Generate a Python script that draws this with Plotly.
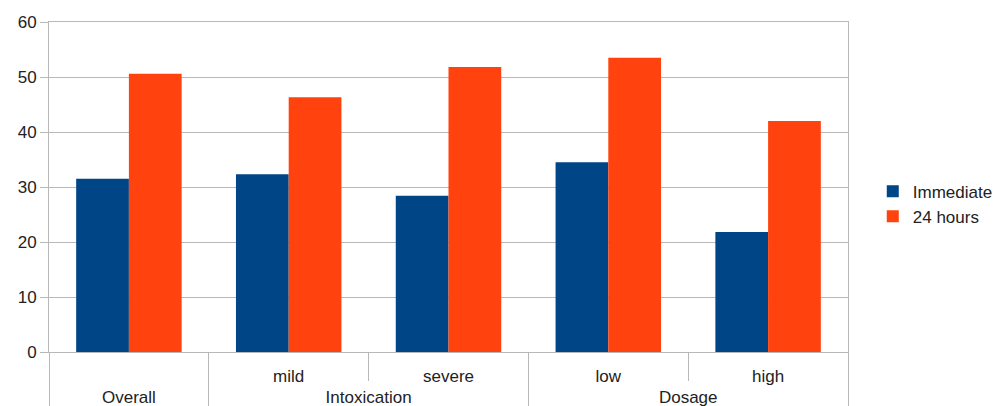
import plotly.graph_objects as go

# Grouping (outer row) and sub-group (inner row) labels for each bar pair
groups = ["Overall", "Intoxication", "Intoxication", "Dosage", "Dosage"]
subgroups = [" ", "mild", "severe", "low", "high"]

immediate = [31.5, 32.3, 28.4, 34.5, 21.8]
hours_24 = [50.6, 46.3, 51.8, 53.5, 42.0]

y_ticks = [0, 10, 20, 30, 40, 50, 60]

BLUE = "#004586"
ORANGE = "#ff420e"
GRID = "#b8b8b8"
TEXT = "#222222"
FONT = "Liberation Sans, Arial, sans-serif"
LABEL_PX = 17


def label(s):
    # category labels are drawn at a fixed size; the larger axis tickfont
    # only lowers both label rows a little further below the axis line
    return f"<span style='font-size:{LABEL_PX}px'>{s}</span>"


x_cats = [[label(g) for g in groups], [label(s) for s in subgroups]]

fig = go.Figure()
fig.add_trace(go.Bar(x=x_cats, y=immediate, name="Immediate",
                     marker=dict(color=BLUE, line=dict(width=0))))
fig.add_trace(go.Bar(x=x_cats, y=hours_24, name="24 hours",
                     marker=dict(color=ORANGE, line=dict(width=0))))

fig.update_layout(
    width=997, height=406,
    margin=dict(l=49, r=149, t=22, b=54, autoexpand=False),
    paper_bgcolor="white", plot_bgcolor="white",
    barmode="group", bargap=0.34, bargroupgap=0,
    font=dict(family=FONT, size=17, color=TEXT),
    showlegend=True,
    legend=dict(x=1.031, xanchor="left", y=0.448, yanchor="middle",
                font=dict(size=17), bgcolor="rgba(0,0,0,0)",
                itemclick=False),
    xaxis=dict(
        type="multicategory",
        range=[-0.5, 4.5],
        showline=True, linecolor=GRID, linewidth=1, mirror=True,
        ticks="outside", tickson="boundaries", ticklen=28, tickcolor=GRID,
        showdividers=True, dividercolor=GRID, dividerwidth=1,
        showgrid=False,
        tickfont=dict(size=24, color=TEXT),
    ),
    yaxis=dict(
        range=[0, 60], tickvals=y_ticks,
        showline=True, linecolor=GRID, linewidth=1, mirror=True,
        ticks="outside", ticklen=8, tickcolor=GRID,
        showgrid=True, gridcolor=GRID, gridwidth=1,
        zeroline=False,
        tickfont=dict(size=17, color=TEXT),
    ),
)

fig.write_html("out.html")
